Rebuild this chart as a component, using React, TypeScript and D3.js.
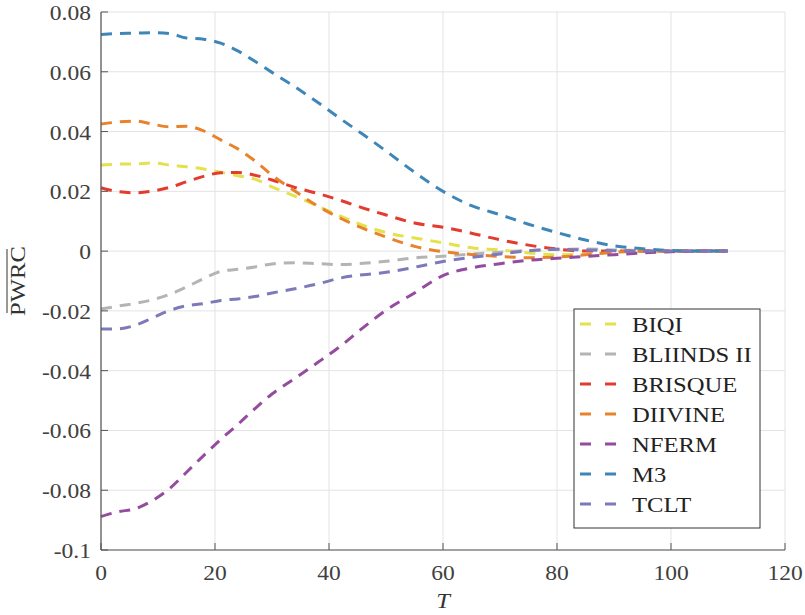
import React from 'react'
import * as d3 from 'd3'

// T sample points shared by all series
const tValues = [0, 3, 6, 9, 12, 15, 18, 21, 24, 27, 30, 34, 38, 42, 46, 50, 55, 60, 65, 70, 75, 80, 85, 90, 95, 100, 105, 110]

const biqi = [0.0288, 0.0291, 0.0292, 0.0295, 0.0288, 0.0282, 0.0275, 0.0264, 0.0252, 0.0241, 0.0215, 0.0184, 0.0151, 0.0117, 0.0086, 0.0062, 0.0044, 0.0028, 0.0011, 0.0004, -0.0006, -0.0012, -0.0011, -0.0003, 0, 0, 0, 0]
const bliinds = [-0.0194, -0.0184, -0.0175, -0.0163, -0.0145, -0.012, -0.0092, -0.0068, -0.0061, -0.0053, -0.0043, -0.0039, -0.0042, -0.0045, -0.0041, -0.0034, -0.0023, -0.0017, -0.001, -0.0004, 0.0002, 0.0006, 0.0007, 0.0004, 0.0002, 0, 0, 0]
const brisque = [0.0212, 0.0199, 0.0195, 0.0201, 0.0213, 0.0232, 0.025, 0.0262, 0.0263, 0.0254, 0.0238, 0.0213, 0.0193, 0.017, 0.0144, 0.0121, 0.0094, 0.008, 0.006, 0.0038, 0.002, 0.0007, 0, 0, 0, 0, 0, 0]
const diivine = [0.0425, 0.0432, 0.0435, 0.0425, 0.0416, 0.0418, 0.0402, 0.0372, 0.0342, 0.0302, 0.0254, 0.0201, 0.0151, 0.011, 0.0076, 0.0047, 0.0016, -0.0002, -0.0011, -0.0018, -0.0022, -0.002, -0.0012, -0.0004, 0, 0, 0, 0]
const nferm = [-0.0888, -0.0872, -0.0862, -0.0835, -0.0795, -0.074, -0.0684, -0.063, -0.058, -0.0527, -0.0478, -0.0426, -0.0373, -0.0318, -0.0256, -0.0198, -0.014, -0.0082, -0.0056, -0.0042, -0.0031, -0.0024, -0.0018, -0.0012, -0.0006, -0.0002, 0, 0]
const m3 = [0.0725, 0.0728, 0.0729, 0.0731, 0.0728, 0.0713, 0.0709, 0.0696, 0.067, 0.0635, 0.0598, 0.055, 0.0498, 0.0443, 0.039, 0.0335, 0.0264, 0.02, 0.0152, 0.0122, 0.009, 0.0062, 0.0037, 0.0018, 0.0008, 0.0002, 0, 0]
const tclt = [-0.0261, -0.026, -0.0248, -0.0224, -0.0199, -0.0183, -0.0176, -0.0165, -0.016, -0.0152, -0.014, -0.0126, -0.011, -0.009, -0.0079, -0.0071, -0.0054, -0.0035, -0.0021, -0.001, 0.0001, 0.0006, 0.0004, 0.0001, 0, 0, 0, 0]

const seriesNames = ['BIQI', 'BLIINDS II', 'BRISQUE', 'DIIVINE', 'NFERM', 'M3', 'TCLT']
const seriesValues = [biqi, bliinds, brisque, diivine, nferm, m3, tclt]
const seriesColors = ['#e4e14c', '#b4b4b4', '#e33b2e', '#e8832c', '#944c9e', '#3f86b8', '#7d7aba']

const xTicks = [0, 20, 40, 60, 80, 100, 120]
const yTicks = [-0.1, -0.08, -0.06, -0.04, -0.02, 0, 0.02, 0.04, 0.06, 0.08]

const W = 805
const H = 615
const margin = { left: 101, right: 20, top: 12, bottom: 65 }
const font = '"Liberation Serif", "Times New Roman", serif'
const stretch = 'scale(1.12,1)'

const App: React.FC = () => {
  const x = d3.scaleLinear().domain([0, 120]).range([margin.left, W - margin.right])
  const y = d3.scaleLinear().domain([-0.1, 0.08]).range([H - margin.bottom, margin.top])

  const line = d3.line<[number, number]>()
    .x(d => x(d[0]))
    .y(d => y(d[1]))
    .curve(d3.curveMonotoneX)

  const x0 = x.range()[0], x1 = x.range()[1]
  const y0 = y.range()[0], y1 = y.range()[1]

  const fmt = (v: number) => (Math.abs(v) < 1e-9 ? '0' : String(+v.toFixed(2)))

  // legend box
  const lg = { x: 574, y: 309, w: 186, h: 219, row: 30 }

  return (
    <svg width={W} height={H} style={{ position: 'absolute', left: 0, top: 0, background: '#fff' }}>
      {/* grid */}
      {xTicks.map(t => (
        <line key={'gx' + t} x1={x(t)} x2={x(t)} y1={y0} y2={y1} stroke="#e3e3e3" strokeWidth={1} />
      ))}
      {yTicks.map(t => (
        <line key={'gy' + t} x1={x0} x2={x1} y1={y(t)} y2={y(t)} stroke="#e3e3e3" strokeWidth={1} />
      ))}

      {/* series */}
      {seriesValues.map((vals, i) => (
        <path
          key={seriesNames[i]}
          d={line(tValues.map((t, j) => [t, vals[j]] as [number, number])) || ''}
          fill="none"
          stroke={seriesColors[i]}
          strokeWidth={3}
          strokeDasharray="11,8"
        />
      ))}

      {/* axes */}
      <line x1={x0} x2={x0} y1={y0} y2={y1} stroke="#555" strokeWidth={1.2} />
      <line x1={x0} x2={x1} y1={y0} y2={y0} stroke="#555" strokeWidth={1.2} />
      {xTicks.map(t => (
        <g key={'xt' + t}>
          <line x1={x(t)} x2={x(t)} y1={y0} y2={y0 - 7} stroke="#555" strokeWidth={1} />
          <text transform={`translate(${x(t)},${y0 + 30}) ${stretch}`} textAnchor="middle"
            fontFamily={font} fontSize={21} fill="#404040">{t}</text>
        </g>
      ))}
      {yTicks.map(t => (
        <g key={'yt' + t}>
          <line x1={x0} x2={x0 + 7} y1={y(t)} y2={y(t)} stroke="#555" strokeWidth={1} />
          <text transform={`translate(${x0 - 10},${y(t) + 8}) ${stretch}`} textAnchor="end"
            fontFamily={font} fontSize={21} fill="#404040">{fmt(t)}</text>
        </g>
      ))}

      {/* axis labels */}
      <text transform={`translate(${(x0 + x1) / 2},${y0 + 58}) ${stretch}`} textAnchor="middle"
        fontFamily={font} fontSize={22} fontStyle="italic" fill="#333">T</text>
      <g transform={`translate(25,${(y0 + y1) / 2}) rotate(-90)`}>
        <text transform={stretch} textAnchor="middle" fontFamily={font} fontSize={22} fill="#333">PWRC</text>
        <line x1={-32} x2={32} y1={-18} y2={-18} stroke="#333" strokeWidth={1} />
      </g>

      {/* legend */}
      <rect x={lg.x} y={lg.y} width={lg.w} height={lg.h} fill="#fff" stroke="#333" strokeWidth={1} />
      {seriesNames.map((name, i) => {
        const cy = lg.y + 15 + i * lg.row
        return (
          <g key={'lg' + name}>
            <line x1={lg.x + 6} x2={lg.x + 44} y1={cy} y2={cy} stroke={seriesColors[i]}
              strokeWidth={3} strokeDasharray="11,14" />
            <text transform={`translate(${lg.x + 58},${cy + 8}) ${stretch}`} fontFamily={font}
              fontSize={22} fill="#222">{name}</text>
          </g>
        )
      })}
    </svg>
  )
}

export default App
